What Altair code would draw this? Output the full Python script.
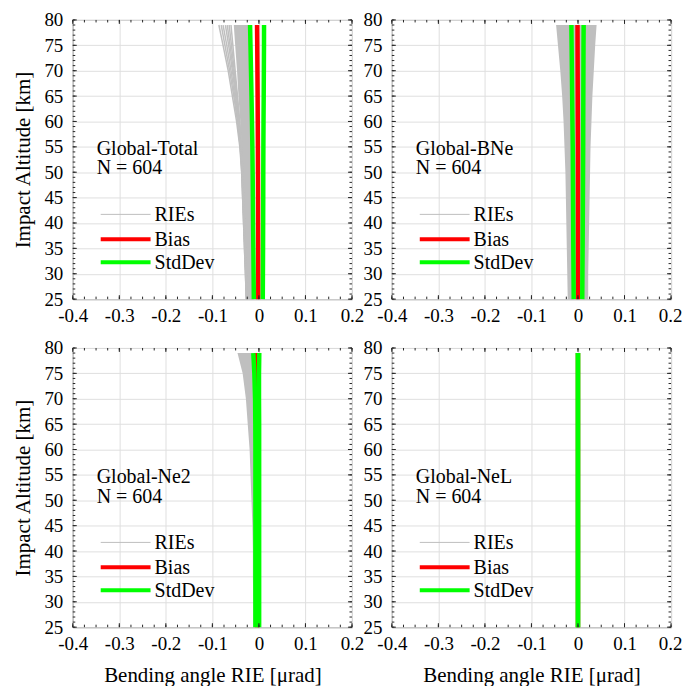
import altair as alt
import pandas as pd

# ---------------- data ----------------
ALT = [25, 30, 35, 40, 45, 50, 55, 60, 65, 70, 75, 79]

X_TICKS = [-0.4, -0.3, -0.2, -0.1, 0.0, 0.1, 0.2]
Y_TICKS = [25, 30, 35, 40, 45, 50, 55, 60, 65, 70, 75, 80]
X_MINOR = [round(-0.4 + 0.025 * i, 3) for i in range(25)]
Y_MINOR = [25 + i for i in range(56)]

PANEL_NAMES = ["Global-Total", "Global-BNe", "Global-Ne2", "Global-NeL"]
N_PROFILES = [604, 604, 604, 604]
LEGEND_LABELS = ["RIEs", "Bias", "StdDev"]

# Global-Total
TOTAL_CORE_LEFT = [-0.026, -0.027, -0.029, -0.031, -0.033, -0.035, -0.037, -0.040, -0.044, -0.047, -0.051, -0.054]
TOTAL_CORE_RIGHT = [-0.012, -0.012, -0.013, -0.013, -0.014, -0.014, -0.015, -0.016, -0.017, -0.018, -0.019, -0.020]
TOTAL_RIE_1 = [-0.027, -0.029, -0.031, -0.033, -0.035, -0.037, -0.041, -0.048, -0.057, -0.066, -0.077, -0.086]
TOTAL_RIE_2 = [-0.027, -0.029, -0.031, -0.033, -0.035, -0.037, -0.040, -0.046, -0.054, -0.063, -0.073, -0.081]
TOTAL_RIE_3 = [-0.027, -0.028, -0.030, -0.032, -0.034, -0.036, -0.040, -0.045, -0.052, -0.060, -0.069, -0.077]
TOTAL_RIE_4 = [-0.026, -0.028, -0.030, -0.032, -0.034, -0.036, -0.039, -0.044, -0.050, -0.057, -0.065, -0.072]
TOTAL_RIE_5 = [-0.026, -0.028, -0.030, -0.031, -0.033, -0.035, -0.038, -0.043, -0.048, -0.055, -0.062, -0.068]
TOTAL_RIE_6 = [-0.026, -0.027, -0.029, -0.031, -0.033, -0.035, -0.038, -0.042, -0.047, -0.053, -0.059, -0.064]
TOTAL_RIE_7 = [-0.026, -0.027, -0.029, -0.031, -0.033, -0.035, -0.037, -0.041, -0.046, -0.051, -0.056, -0.060]
TOTAL_BIAS = [-0.0013, -0.0014, -0.0015, -0.0017, -0.0018, -0.0020, -0.0022, -0.0025, -0.0028, -0.0032, -0.0036, -0.0040]
TOTAL_STD = [0.0096, 0.0100, 0.0104, 0.0108, 0.0111, 0.0114, 0.0118, 0.0124, 0.0131, 0.0138, 0.0145, 0.0150]

# Global-BNe
BNE_CORE_LEFT = [-0.022, -0.023, -0.024, -0.025, -0.026, -0.027, -0.029, -0.031, -0.034, -0.038, -0.043, -0.047]
BNE_CORE_RIGHT = [0.022, 0.022, 0.023, 0.024, 0.025, 0.026, 0.027, 0.029, 0.031, 0.034, 0.037, 0.040]
BNE_BIAS = [0.0, 0.0, 0.0, 0.0, 0.0, 0.0, 0.0, -0.0003, -0.0005, -0.0007, -0.0009, -0.0010]
BNE_STD = [0.0092, 0.0096, 0.0100, 0.0103, 0.0106, 0.0109, 0.0112, 0.0116, 0.0120, 0.0124, 0.0128, 0.0132]

# Global-Ne2
NE2_CORE_LEFT = [-0.012, -0.012, -0.013, -0.013, -0.014, -0.016, -0.018, -0.020, -0.024, -0.028, -0.035, -0.046]
NE2_CORE_RIGHT = [-0.008, -0.008, -0.008, -0.008, -0.008, -0.008, -0.008, -0.008, -0.008, -0.009, -0.010, -0.011]
NE2_BIAS = [-0.0035, -0.0035, -0.0035, -0.0035, -0.0035, -0.0035, -0.0035, -0.0035, -0.0036, -0.0040, -0.0048, -0.0056]
NE2_STD = [0.0040, 0.0040, 0.0040, 0.0040, 0.0040, 0.0040, 0.0040, 0.0040, 0.0041, 0.0042, 0.0050, 0.0064]

# Global-NeL
NEL_CORE_LEFT = [0.0] * 12
NEL_CORE_RIGHT = [0.0] * 12
NEL_BIAS = [0.0] * 12
NEL_STD = [0.0] * 12

# ---------------- style ----------------
W = 280
H = 280
FONT = "Liberation Serif"
GRAY = "#bfbfbf"
RED = "#ff0000"
GREEN = "#00ff00"
LW = 4.5


def xenc(field, bottom, right):
    kw = dict(values=X_TICKS, grid=True,
              title="Bending angle RIE [μrad]" if bottom else None,
              labelExpr="toString(round(datum.value*10)/10)",
              labelFont=FONT, labelFontSize=19, labelColor="#000000",
              titleFont=FONT, titleFontSize=21, titleColor="#000000", titleFontWeight="normal",
              labelFlush=False, labelOverlap=False, labelPadding=7, titlePadding=11)
    if right:
        kw["labelAlign"] = {"expr": "datum.value > 0.15 ? 'right' : 'center'"}
        kw["labelOffset"] = {"expr": "datum.value > 0.15 ? 11 : 0"}
    return alt.X(
        field, type="quantitative",
        scale=alt.Scale(domain=[-0.4, 0.2], nice=False, zero=False),
        axis=alt.Axis(**kw),
    )


def yenc(field, left):
    return alt.Y(
        field, type="quantitative",
        scale=alt.Scale(domain=[25, 80], nice=False, zero=False),
        axis=alt.Axis(values=Y_TICKS, grid=True,
                      title="Impact Altitude [km]" if left else None,
                      labelFont=FONT, labelFontSize=19, labelColor="#000000",
                      titleFont=FONT, titleFontSize=21, titleColor="#000000",
                      titleFontWeight="normal", labelFlush=False, labelOverlap=False,
                      labelPadding=10, titlePadding=10),
    )


def panel(name, n, core_left, core_right, rie_lines, bias, std, left, bottom):
    right = not left
    X = lambda f: xenc(f, bottom, right)
    Y = lambda f: yenc(f, left)
    layers = []
    band = pd.DataFrame({"y": ALT, "x": core_left, "x2": core_right})
    layers.append(
        alt.Chart(band).mark_area(color=GRAY, orient="horizontal", opacity=1).encode(
            y=Y("y"), x=X("x"), x2=alt.X2("x2"))
    )
    if rie_lines:
        rows = []
        for i, prof in enumerate(rie_lines):
            for a, v in zip(ALT, prof):
                rows.append({"id": i, "y": a, "x": v})
        layers.append(
            alt.Chart(pd.DataFrame(rows)).mark_line(color=GRAY, strokeWidth=1.5).encode(
                y=Y("y"), x=X("x"), detail="id:N", order="y:Q")
        )
    bdf = pd.DataFrame({"y": ALT, "x": bias})
    layers.append(
        alt.Chart(bdf).mark_line(color=RED, strokeWidth=LW).encode(
            y=Y("y"), x=X("x"), order="y:Q")
    )
    srows = []
    for a, b, s in zip(ALT, bias, std):
        srows.append({"id": "lo", "y": a, "x": b - s})
        srows.append({"id": "hi", "y": a, "x": b + s})
    layers.append(
        alt.Chart(pd.DataFrame(srows)).mark_line(color=GREEN, strokeWidth=LW).encode(
            y=Y("y"), x=X("x"), detail="id:N", order="y:Q")
    )
    # inside ticks (box on all sides)
    xmaj = pd.DataFrame({"x": X_TICKS})
    xmin = pd.DataFrame({"x": X_MINOR})
    ymaj = pd.DataFrame({"y": Y_TICKS})
    ymin = pd.DataFrame({"y": Y_MINOR})
    tick_style = dict(color="#262626", strokeWidth=1)
    for df, ln in ((xmaj, 4), (xmin, 2.5)):
        layers.append(alt.Chart(df).mark_rule(**tick_style).encode(
            x=X("x"), y=alt.value(H), y2=alt.value(H - ln)))
        layers.append(alt.Chart(df).mark_rule(**tick_style).encode(
            x=X("x"), y=alt.value(0), y2=alt.value(ln)))
    for df, ln in ((ymaj, 4), (ymin, 2.5)):
        layers.append(alt.Chart(df).mark_rule(**tick_style).encode(
            y=Y("y"), x=alt.value(0), x2=alt.value(ln)))
        layers.append(alt.Chart(df).mark_rule(**tick_style).encode(
            y=Y("y"), x=alt.value(W), x2=alt.value(W - ln)))
    # legend
    one = alt.Data(values=[{}])
    leg_colors = [GRAY, RED, GREEN]
    leg_widths = [1, 4, 4]
    leg_y = [195, 220, 243]
    for lab, col, wd, ly in zip(LEGEND_LABELS, leg_colors, leg_widths, leg_y):
        layers.append(alt.Chart(one).mark_rule(color=col, strokeWidth=wd).encode(
            x=alt.value(28), x2=alt.value(78), y=alt.value(ly)))
        layers.append(alt.Chart(one).mark_text(
            align="left", baseline="middle", font=FONT, fontSize=20, color="#000000").encode(
            x=alt.value(82), y=alt.value(ly + 1), text=alt.value(lab)))
    # panel labels
    layers.append(alt.Chart(one).mark_text(
        align="left", baseline="middle", font=FONT, fontSize=20, color="#000000").encode(
        x=alt.value(24), y=alt.value(129), text=alt.value(name)))
    layers.append(alt.Chart(one).mark_text(
        align="left", baseline="middle", font=FONT, fontSize=20, color="#000000").encode(
        x=alt.value(24), y=alt.value(149), text=alt.value("N = %d" % n)))
    return alt.layer(*layers).properties(width=W, height=H)


p1 = panel(PANEL_NAMES[0], N_PROFILES[0], TOTAL_CORE_LEFT, TOTAL_CORE_RIGHT,
           [TOTAL_RIE_1, TOTAL_RIE_2, TOTAL_RIE_3, TOTAL_RIE_4, TOTAL_RIE_5, TOTAL_RIE_6, TOTAL_RIE_7],
           TOTAL_BIAS, TOTAL_STD, True, False)
p2 = panel(PANEL_NAMES[1], N_PROFILES[1], BNE_CORE_LEFT, BNE_CORE_RIGHT,
           [], BNE_BIAS, BNE_STD, False, False)
p3 = panel(PANEL_NAMES[2], N_PROFILES[2], NE2_CORE_LEFT, NE2_CORE_RIGHT,
           [], NE2_BIAS, NE2_STD, True, True)
p4 = panel(PANEL_NAMES[3], N_PROFILES[3], NEL_CORE_LEFT, NEL_CORE_RIGHT,
           [], NEL_BIAS, NEL_STD, False, True)

chart = alt.concat(p1, p2, p3, p4, columns=2, spacing={"row": 49, "column": 40}).properties(
    bounds="flush",
    padding={"left": 12, "top": 9, "right": 0, "bottom": 0},
    background="white",
).configure_view(
    stroke="#262626", strokeWidth=1
).configure_axis(
    labelFont=FONT, labelFontSize=19, labelColor="#000000",
    titleFont=FONT, titleFontSize=21, titleColor="#000000", titleFontWeight="normal",
    domain=False, ticks=False, tickSize=0, gridColor="#dfdfdf", gridWidth=1, gridOpacity=1,
)

chart.save("out.html", embed_options={"renderer": "svg", "actions": False})
